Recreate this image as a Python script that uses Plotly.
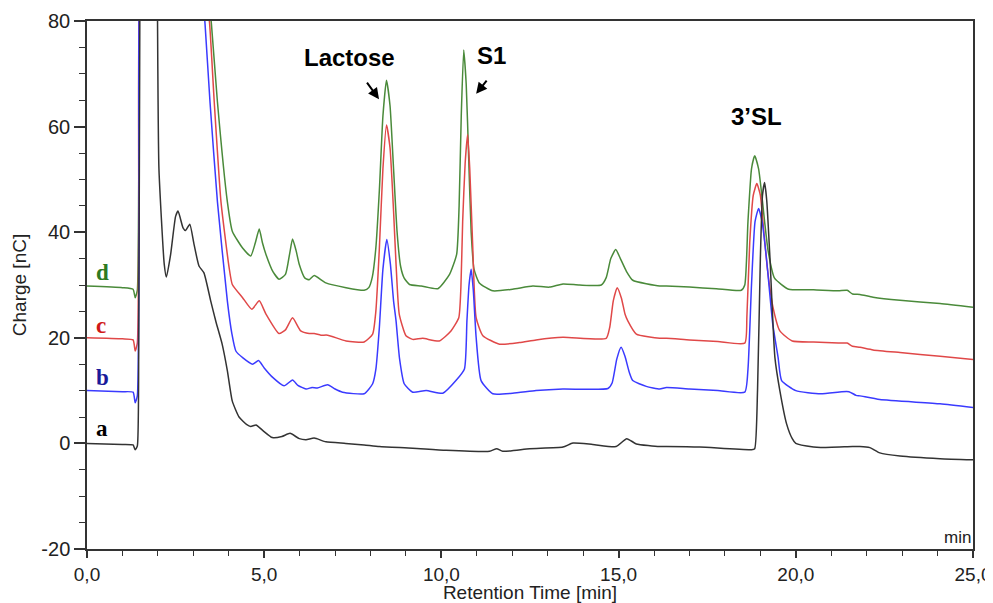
import plotly.graph_objects as go

# ---------------- data ----------------
# trace a (black)
t_a = [0.0, 1.0, 1.3, 1.36, 1.42, 1.46, 1.49, 1.55, 1.75, 1.95, 1.99, 2.03, 2.18, 2.24, 2.36, 2.5, 2.57,
       2.71, 2.78, 2.9, 3.02, 3.16, 3.3, 3.49, 3.64, 3.81, 3.96, 4.1, 4.29, 4.5, 4.62, 4.77, 4.95, 5.23,
       5.5, 5.73, 5.99, 6.18, 6.41, 6.74, 7.3, 7.82, 8.25, 9.19, 10.13, 11.36, 11.56, 11.73, 12.49, 13.43,
       13.71, 14.27, 14.93, 15.23, 15.5, 16.16, 16.35, 17.29, 18.75, 18.84, 18.92, 19.0, 19.06, 19.12,
       19.18, 19.27, 19.41, 19.55, 19.74, 19.9, 20.0, 20.5, 20.7, 21.6, 21.81, 22.09, 22.37, 22.94, 24.07, 25.0]
v_a = [0.0, -0.2, -0.3, -1.2, -0.5, 20, 80, 150, 200, 150, 80, 52, 33.9, 31.5, 35.8, 43, 44,
       40.8, 40.3, 41.5, 37.7, 33.6, 32.3, 27, 23, 18.9, 13.8, 8, 5.0, 3.6, 3.2, 3.5, 2.5, 1.1,
       1.3, 1.9, 0.9, 0.7, 1.0, 0.3, 0.0, -0.3, -0.6, -0.9, -1.3, -1.5, -1.0, -1.5, -1.0, -0.7,
       0.06, -0.2, -0.6, 0.9, -0.1, -0.6, -0.6, -0.7, -1.2, -1.0, 10, 35, 47, 49.4,
       46, 35.2, 16.3, 10, 3.7, 0.9, 0.0, -0.7, -0.8, -0.6, -0.57, -0.8, -1.8, -2.4, -2.9, -3.1]

# trace b (blue)
t_b = [0.0, 1.0, 1.3, 1.36, 1.42, 1.47, 1.5, 2.5, 3.2, 3.33, 3.47, 3.68, 3.96, 4.09, 4.2, 4.4, 4.67,
       4.84, 5.0, 5.24, 5.56, 5.8, 5.95, 6.18, 6.35, 6.5, 6.79, 7.0, 7.21, 7.82, 8.06, 8.15, 8.25, 8.35,
       8.46, 8.56, 8.65, 8.72, 8.82, 8.95, 9.19, 9.57, 10.04, 10.41, 10.65, 10.72, 10.78, 10.84, 10.9,
       10.98, 11.12, 11.45, 12.01, 12.67, 13.43, 14.7, 14.82, 14.95, 15.07, 15.18, 15.3, 15.4, 15.78,
       16.16, 16.35, 17.0, 17.8, 18.56, 18.65, 18.75, 18.85, 18.95, 19.05, 19.17, 19.35, 19.5, 19.6,
       20.0, 20.7, 21.3, 21.5, 21.7, 21.81, 22.37, 24.07, 25.0]
v_b = [10, 9.8, 9.7, 7.7, 9, 40, 90, 150, 90, 79.5, 64.7, 45.8, 27, 20.7, 17.5, 16.2, 15,
       15.7, 14.3, 12.5, 10.9, 12, 11, 10.3, 10.6, 10.5, 11.1, 10.3, 9.7, 9.4, 11.3, 14, 22, 33,
       38.6, 34, 27, 23.2, 16, 11.3, 9.7, 10, 9.5, 11.9, 14.1, 23.2, 30, 33, 29,
       20.1, 11.9, 9.4, 9.5, 10, 10.3, 10.4, 11.5, 16, 18.2, 16.5, 13.5, 11.9, 10.8,
       10.3, 10.6, 10.3, 10.0, 9.7, 14, 30, 42, 44.5, 42, 35.2, 22.6, 16.3, 11.9,
       10, 9.4, 9.8, 9.8, 9.1, 9.0, 8.3, 7.5, 6.8]

# trace c (red)
t_c = [0.0, 1.0, 1.3, 1.36, 1.42, 1.46, 1.5, 2.5, 3.3, 3.46, 3.59, 3.78, 4.01, 4.1, 4.39, 4.65, 4.86,
       5.05, 5.42, 5.6, 5.8, 6.03, 6.27, 6.41, 6.6, 6.79, 7.31, 7.82, 8.06, 8.15, 8.25, 8.35, 8.45, 8.55,
       8.65, 8.72, 8.81, 9.0, 9.19, 9.47, 9.94, 10.27, 10.49, 10.55, 10.6, 10.67, 10.74, 10.8, 10.88,
       10.98, 11.17, 11.64, 12.2, 12.67, 13.43, 14.65, 14.75, 14.85, 14.96, 15.08, 15.18, 15.26, 15.5,
       16.16, 16.35, 17.0, 17.8, 18.56, 18.62, 18.7, 18.8, 18.9, 19.0, 19.08, 19.2, 19.35, 19.55, 19.9,
       20.5, 21.2, 21.45, 21.6, 21.81, 22.18, 22.94, 24.07, 25.0]
v_c = [20, 19.8, 19.6, 17.5, 19, 40, 90, 150, 90, 79.5, 64.7, 45.8, 33.3, 30.1, 27.6, 25.4, 27,
       24.5, 20.8, 21.5, 23.8, 21.3, 20.8, 20.8, 20.5, 20.5, 19.4, 19.2, 20.7, 25, 37, 52, 60.3, 56,
       44, 34, 24.5, 20.4, 19.7, 19.9, 19.4, 21.3, 23.8, 29.5, 42, 53, 58.5, 52, 38,
       23.8, 20.4, 18.8, 19.1, 19.6, 20.1, 19.9, 22, 27, 29.5, 27.5, 24.5, 23.2, 20.7,
       19.9, 19.9, 19.6, 19.3, 19.0, 24, 38, 47, 49.2, 47, 41.4, 33, 26, 21.3, 19.4,
       19.2, 19.0, 19.0, 18.4, 18.2, 17.7, 17.2, 16.5, 15.9]

# trace d (green)
t_d = [0.0, 1.0, 1.3, 1.36, 1.42, 1.46, 1.5, 2.5, 3.35, 3.51, 3.68, 3.96, 4.1, 4.39, 4.62, 4.75, 4.86,
       4.95, 5.05, 5.25, 5.42, 5.6, 5.72, 5.8, 5.9, 5.99, 6.15, 6.27, 6.41, 6.74, 7.31, 7.82, 7.95, 8.05,
       8.15, 8.25, 8.35, 8.45, 8.55, 8.65, 8.75, 8.85, 8.95, 9.1, 9.43, 9.9, 10.23, 10.43, 10.5, 10.56,
       10.63, 10.7, 10.77, 10.84, 10.92, 11.07, 11.45, 12.01, 12.58, 13.05, 13.43, 13.9, 14.51, 14.65,
       14.78, 14.92, 15.05, 15.22, 15.4, 16.16, 16.35, 17.0, 17.76, 18.46, 18.56, 18.65, 18.75, 18.84,
       18.95, 19.03, 19.12, 19.22, 19.4, 19.8, 20.5, 21.2, 21.45, 21.6, 21.81, 22.18, 22.94, 24.07, 25.0]
v_d = [29.8, 29.5, 29.2, 27.6, 29, 50, 90, 150, 90, 79.5, 64.7, 45.8, 40.2, 37, 35.5, 38, 40.6,
       38, 35.8, 32.5, 31.1, 32, 36, 38.7, 36.5, 33.9, 31.3, 31, 31.8, 30.4, 29.5, 29, 29.5, 31.5,
       37, 48, 62, 68.8, 64, 52, 40, 33.5, 31.3, 30.1, 29.8, 29.3, 32, 35.8, 45, 62,
       74.5, 68, 54, 40, 33, 30.4, 28.9, 29.2, 29.8, 29.6, 30.2, 30, 30, 31.4,
       35, 36.7, 35, 32.6, 30.9, 29.8, 29.8, 29.6, 29.3, 29.0, 30, 42, 52, 54.5,
       52, 47.7, 42, 36.4, 31.3, 29.2, 29.1, 28.9, 29.0, 28.3, 28.2, 27.7, 27.1, 26.5, 25.8]

series_names = ["d", "c", "b", "a"]
series_colors = ["#4a8a3a", "#e04848", "#3a3aff", "#333333"]
label_colors = ["#2e7a22", "#d01818", "#1a1a9a", "#000000"]
label_y = [29.6, 19.6, 9.7, 0.0]

x_tick_vals = [0, 5, 10, 15, 20, 25]
x_tick_text = ["0,0", "5,0", "10,0", "15,0", "20,0", "25,0"]
y_tick_vals = [-20, 0, 20, 40, 60, 80]
y_tick_text = ["-20", "0", "20", "40", "60", "80"]

# ---------------- figure ----------------
xs = [t_d, t_c, t_b, t_a]
ys = [v_d, v_c, v_b, v_a]

fig = go.Figure()
for name, x, y, col in zip(series_names, xs, ys, series_colors):
    fig.add_trace(go.Scatter(x=x, y=y, mode="lines", name=name,
                             line=dict(color=col, width=1.5, shape="spline", smoothing=0.5),
                             showlegend=False, hoverinfo="skip"))

# curve letters
for name, yy, col in zip(series_names, label_y, label_colors):
    fig.add_annotation(x=0.2, y=yy, xref="x", yref="y", text="<b>%s</b>" % name,
                       showarrow=False, xanchor="left", yanchor="bottom",
                       font=dict(family="Liberation Serif, Times New Roman, serif", size=23, color=col))

bold = dict(family="Liberation Sans, Arial, sans-serif", size=24, color="#000000")
fig.add_annotation(x=7.42, y=73.0, text="<b>Lactose</b>", showarrow=False, font=bold)
fig.add_annotation(x=11.4, y=73.4, text="<b>S1</b>", showarrow=False, font=bold)
fig.add_annotation(x=18.9, y=62.0, text="<b>3’SL</b>", showarrow=False, font=bold)
# arrows
fig.add_annotation(x=8.24, y=65.2, ax=7.87, ay=68.6, axref="x", ayref="y", text="",
                   showarrow=True, arrowhead=2, arrowsize=1.1, arrowwidth=2, arrowcolor="#000000")
fig.add_annotation(x=10.98, y=66.2, ax=11.31, ay=69.0, axref="x", ayref="y", text="",
                   showarrow=True, arrowhead=2, arrowsize=1.1, arrowwidth=2, arrowcolor="#000000")
# "min" unit label
fig.add_annotation(x=25, y=-20, xref="x", yref="y", text="min", showarrow=False,
                   xanchor="right", yanchor="bottom",
                   font=dict(family="Liberation Sans, Arial, sans-serif", size=17, color="#222222"))

axis_font = dict(family="Liberation Sans, Arial, sans-serif", size=19, color="#222222")
# the page body adds an 8px margin, so the figure is sized to fit inside the window
fig.update_layout(
    width=985, height=595,
    margin=dict(l=79, r=20, t=13, b=54, autoexpand=False),
    plot_bgcolor="white", paper_bgcolor="white",
    font=axis_font,
    xaxis=dict(range=[0, 25], showgrid=False, zeroline=False, automargin=False,
               showline=True, linecolor="#333333", linewidth=2, mirror=True,
               ticks="outside", ticklen=7, tickwidth=1.5, tickcolor="#333333",
               tickvals=x_tick_vals, ticktext=x_tick_text, tickfont=axis_font,
               minor=dict(dtick=1, ticks="outside", ticklen=5, tickwidth=1.2, tickcolor="#333333"),
               title=dict(text="Retention Time [min]", font=axis_font, standoff=4)),
    yaxis=dict(range=[-20, 80], showgrid=False, zeroline=False, automargin=False,
               showline=True, linecolor="#333333", linewidth=1.5, mirror=True,
               ticks="outside", ticklen=11, tickwidth=1.5, tickcolor="#333333",
               tickvals=y_tick_vals, ticktext=y_tick_text, tickfont=dict(axis_font, size=20),
               minor=dict(dtick=5, ticks="outside", ticklen=6, tickwidth=1.2, tickcolor="#333333"),
               title=dict(text="Charge [nC]", font=axis_font, standoff=10)),
)

fig.write_html("out.html")
